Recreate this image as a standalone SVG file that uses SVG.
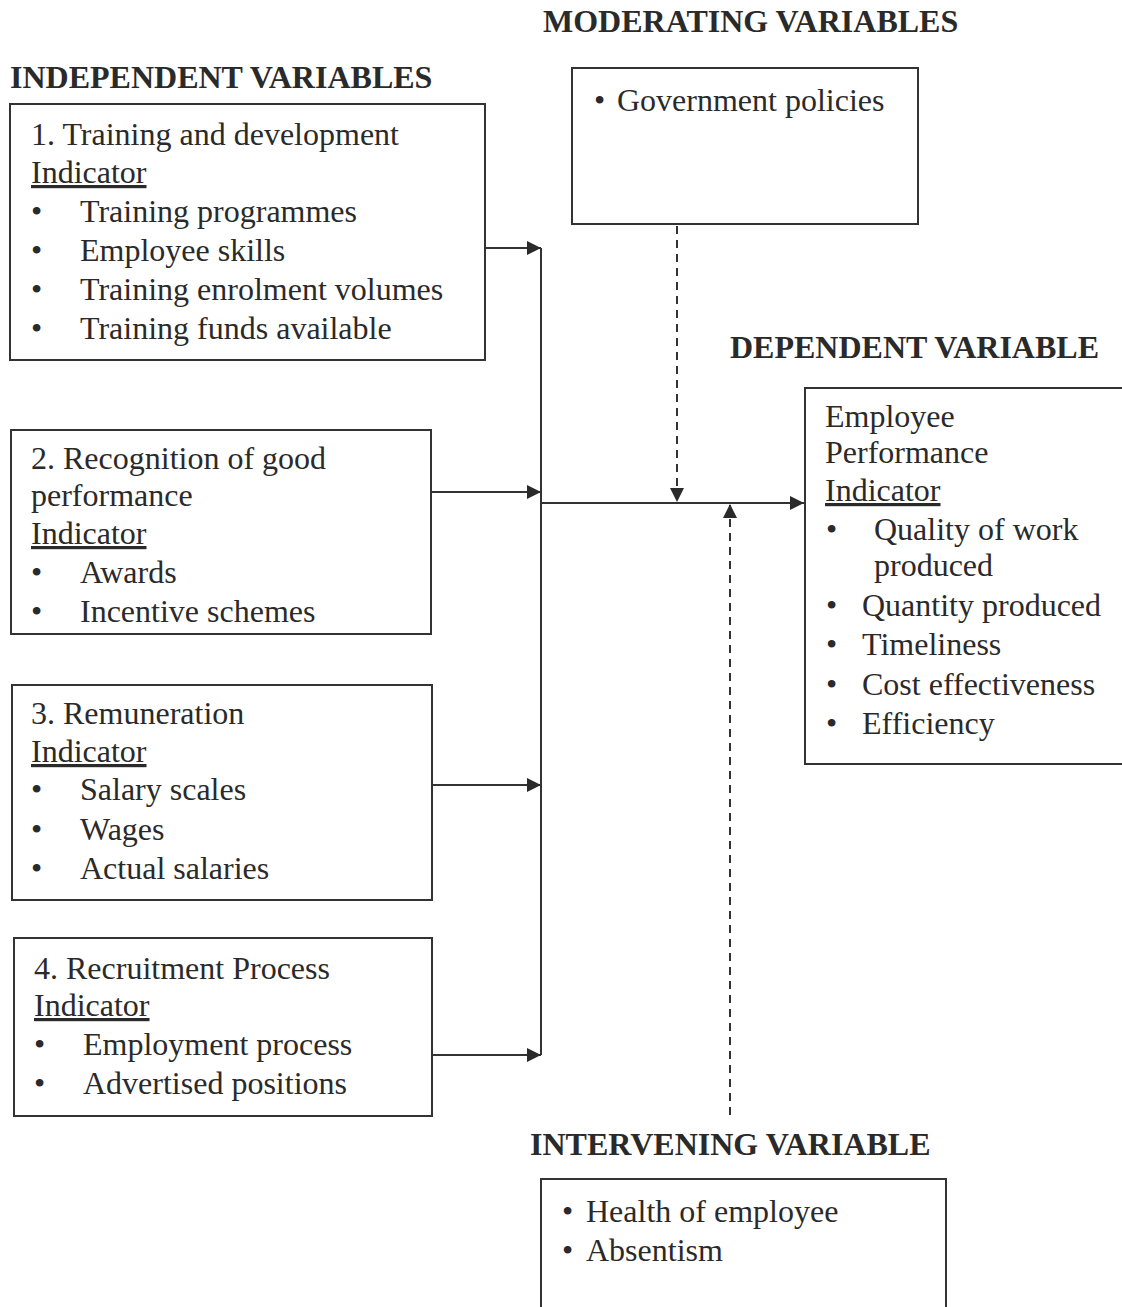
<svg xmlns="http://www.w3.org/2000/svg" width="1122" height="1307" viewBox="0 0 1122 1307">
<style>
text{font-family:"Liberation Serif","Times New Roman",serif;font-size:32px;fill:#2a2a2a}
.h{font-weight:bold;font-size:32px}
.u{text-decoration:underline}
.box{fill:none;stroke:#333;stroke-width:2}
.ln{fill:none;stroke:#333;stroke-width:2}
.ds{fill:none;stroke:#333;stroke-width:2;stroke-dasharray:8,6}
</style>
<defs>
<marker id="ah" viewBox="0 0 10 10" refX="10" refY="5" markerWidth="16" markerHeight="14" markerUnits="userSpaceOnUse" orient="auto">
<path d="M0,0L10,5L0,10z" fill="#2a2a2a"/>
</marker>
</defs>
<rect width="1122" height="1307" fill="#fff"/>
<text class="h" x="543" y="32">MODERATING VARIABLES</text>
<text class="h" x="10" y="88">INDEPENDENT VARIABLES</text>
<text class="h" x="730" y="358">DEPENDENT VARIABLE</text>
<text class="h" x="530" y="1155">INTERVENING VARIABLE</text>

<g id="n1">
<rect class="box" x="10" y="104" width="475" height="256"/>
<text x="31" y="145">1. Training and development</text>
<text class="u" x="31" y="183">Indicator</text>
<text x="31" y="222">•</text><text x="80" y="222">Training programmes</text>
<text x="31" y="261">•</text><text x="80" y="261">Employee skills</text>
<text x="31" y="300">•</text><text x="80" y="300">Training enrolment volumes</text>
<text x="31" y="339">•</text><text x="80" y="339">Training funds available</text>
</g>
<g id="n2">
<rect class="box" x="11" y="430" width="420" height="204"/>
<text x="31" y="469">2. Recognition of good</text>
<text x="31" y="506">performance</text>
<text class="u" x="31" y="544">Indicator</text>
<text x="31" y="583">•</text><text x="80" y="583">Awards</text>
<text x="31" y="622">•</text><text x="80" y="622">Incentive schemes</text>
</g>
<g id="n3">
<rect class="box" x="12" y="685" width="420" height="215"/>
<text x="31" y="724">3. Remuneration</text>
<text class="u" x="31" y="762">Indicator</text>
<text x="31" y="800">•</text><text x="80" y="800">Salary scales</text>
<text x="31" y="840">•</text><text x="80" y="840">Wages</text>
<text x="31" y="879">•</text><text x="80" y="879">Actual salaries</text>
</g>
<g id="n4">
<rect class="box" x="14" y="938" width="418" height="178"/>
<text x="34" y="979">4. Recruitment Process</text>
<text class="u" x="34" y="1016">Indicator</text>
<text x="34" y="1055">•</text><text x="83" y="1055">Employment process</text>
<text x="34" y="1094">•</text><text x="83" y="1094">Advertised positions</text>
</g>
<g id="mod">
<rect class="box" x="572" y="68" width="346" height="156"/>
<text x="594" y="111">•</text><text x="617" y="111">Government policies</text>
</g>
<g id="dep">
<rect class="box" x="805" y="388" width="320" height="376"/>
<text x="825" y="427">Employee</text>
<text x="825" y="463">Performance</text>
<text class="u" x="825" y="501">Indicator</text>
<text x="826" y="540">•</text><text x="874" y="540">Quality of work</text>
<text x="874" y="576">produced</text>
<text x="826" y="616">•</text><text x="862" y="616">Quantity produced</text>
<text x="826" y="655">•</text><text x="862" y="655">Timeliness</text>
<text x="826" y="695">•</text><text x="862" y="695">Cost effectiveness</text>
<text x="826" y="734">•</text><text x="862" y="734">Efficiency</text>
</g>
<g id="int">
<rect class="box" x="541" y="1179" width="405" height="140"/>
<text x="562" y="1222">•</text><text x="586" y="1222">Health of employee</text>
<text x="562" y="1261">•</text><text x="586" y="1261">Absentism</text>
</g>
<g id="connectors">
<line class="ln" x1="541" y1="248" x2="541" y2="1055"/>
<line class="ln" x1="485" y1="248" x2="541" y2="248" marker-end="url(#ah)"/>
<line class="ln" x1="431" y1="492" x2="541" y2="492" marker-end="url(#ah)"/>
<line class="ln" x1="432" y1="785" x2="541" y2="785" marker-end="url(#ah)"/>
<line class="ln" x1="432" y1="1055" x2="541" y2="1055" marker-end="url(#ah)"/>
<line class="ln" x1="541" y1="503" x2="804" y2="503" marker-end="url(#ah)"/>
<line class="ds" x1="677" y1="226" x2="677" y2="502" marker-end="url(#ah)"/>
<line class="ds" x1="730" y1="1115" x2="730" y2="504" marker-end="url(#ah)"/>
</g>
</svg>
